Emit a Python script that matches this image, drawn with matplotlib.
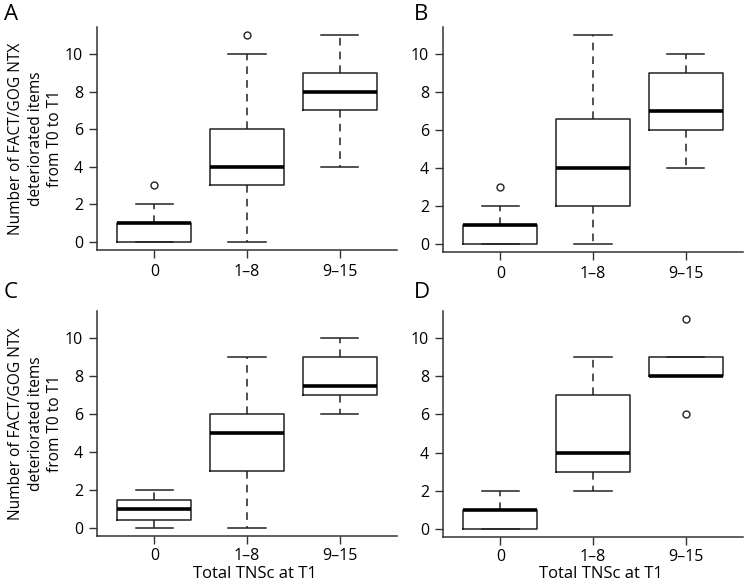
import matplotlib
matplotlib.use("Agg")
import matplotlib.pyplot as plt

plt.rcParams['font.family'] = ['Open Sans', 'DejaVu Sans']

groups = ["0", "1\u20138", "9\u201315"]
panels = ["A", "B", "C", "D"]

# per panel, per group: (whislo, q1, med, q3, whishi, outliers)
stats_A = [(0, 0, 1, 1, 2, [3]), (0, 3, 4, 6, 10, [11]), (4, 7, 8, 9, 11, [])]
stats_B = [(0, 0, 1, 1, 2, [3]), (0, 2, 4, 6.6, 11, []), (4, 6, 7, 9, 10, [])]
stats_C = [(0, 0.4, 1, 1.45, 2, []), (0, 3, 5, 6, 9, []), (6, 7, 7.5, 9, 10, [])]
stats_D = [(0, 0, 1, 1, 2, []), (2, 3, 4, 7, 9, []), (8, 8, 8, 9, 9, [11, 6])]

ylabel = "Number of FACT/GOG NTX\ndeteriorated items\nfrom T0 to T1"
xlabel = "Total TNSc at T1"

fig = plt.figure(figsize=(7.5, 5.82), dpi=100)
W, H = 750, 582


def add_ax(l, r, t, b):
    return fig.add_axes([l / W, 1 - b / H, (r - l) / W, (b - t) / H])


boxes = [(97, 397, 27, 250), (443, 743, 27, 252), (97, 397, 311, 536), (443, 743, 311, 537)]
all_stats = [stats_A, stats_B, stats_C, stats_D]
letters = [(4, 4), (414, 4), (4, 282), (414, 282)]

for i, (pos, st) in enumerate(zip(boxes, all_stats)):
    ax = add_ax(*pos)
    bstats = []
    for g, (lo, q1, med, q3, hi, fl) in zip(groups, st):
        bstats.append(dict(whislo=lo, q1=q1, med=med, q3=q3, whishi=hi, fliers=fl, label=g))
    ax.bxp(bstats, positions=[1, 2, 3], widths=0.8, capwidths=0.4,
           boxprops=dict(color="#222222", linewidth=1.1),
           medianprops=dict(color="black", linewidth=2.6, solid_capstyle="butt"),
           whiskerprops=dict(color="#222222", linewidth=1.1, linestyle=(0, (5, 4))),
           capprops=dict(color="#222222", linewidth=1.1),
           flierprops=dict(marker="o", markerfacecolor="white", markeredgecolor="#222222",
                           markersize=5, markeredgewidth=1.0))
    ax.set_xlim(0.38, 3.62)
    ax.set_ylim(-0.44, 11.44)
    ax.set_yticks([0, 2, 4, 6, 8, 10])
    ax.set_xticks([1, 2, 3])
    ax.set_xticklabels(groups)
    for s in ["top", "right"]:
        ax.spines[s].set_visible(False)
    for s in ["left", "bottom"]:
        ax.spines[s].set_linewidth(1.1)
        ax.spines[s].set_color("#333333")
    ax.tick_params(length=6, width=1.0, color="#333333", labelsize=11.5, pad=4)
    if i in (0, 2):
        ax.set_ylabel(ylabel, fontsize=11.2, linespacing=1.3, labelpad=1)
    if i in (2, 3):
        ax.tick_params(axis="x", pad=2.5)
        cx = (pos[0] + pos[1]) / 2 / W
        fig.text(cx + 0.01, 1 - 578 / H, xlabel, fontsize=12, ha="center", va="baseline")
    fig.text(letters[i][0] / W, 1 - letters[i][1] / H, panels[i], fontsize=16,
             ha="left", va="top")

fig.savefig("out.png", dpi=100)
